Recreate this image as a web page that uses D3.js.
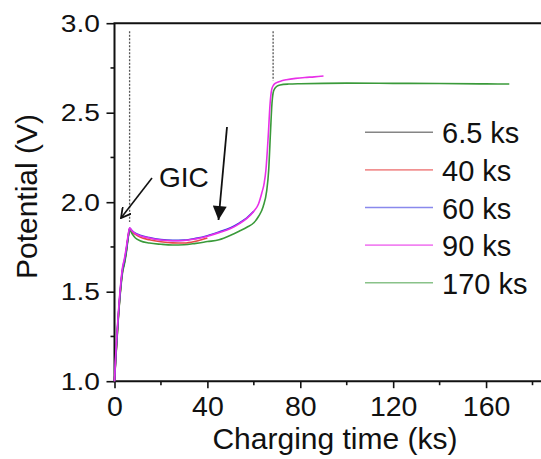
<!DOCTYPE html>
<html>
<head>
<meta charset="utf-8">
<script src="https://cdn.jsdelivr.net/npm/d3@7/dist/d3.min.js"></script>
<style>
  html, body { margin: 0; padding: 0; background: #fff; }
  svg { display: block; }
  text { font-family: "Liberation Sans", Arial, sans-serif; fill: #111; }
</style>
</head>
<body>
<svg id="chart" width="541" height="459"></svg>
<script>
// Charging curves: time (ks) and potential (V) for each charging duration
const time6_5  = [0, 0.5, 1.5, 2.5, 3.5, 4.2, 5.0, 5.8, 6.5];
const volt6_5  = [1.00, 1.12, 1.33, 1.50, 1.62, 1.66, 1.72, 1.80, 1.85];

const time40 = [0, 0.5, 1.5, 2.5, 3.5, 4.2, 5.0, 5.8, 6.5, 7.5, 9, 11, 15, 20, 25, 30, 35, 40];
const volt40 = [1.00, 1.12, 1.33, 1.50, 1.62, 1.66, 1.72, 1.80, 1.85, 1.835, 1.82, 1.805, 1.79, 1.779, 1.773, 1.772, 1.782, 1.80];

const time60 = [0, 0.5, 1.5, 2.5, 3.5, 4.2, 5.0, 5.8, 6.5, 7.5, 9, 11, 15, 20, 25, 30, 35, 40, 45, 50, 54, 57, 60];
const volt60 = [1.00, 1.13, 1.34, 1.51, 1.63, 1.67, 1.73, 1.80, 1.855, 1.842, 1.827, 1.816, 1.802, 1.791, 1.787, 1.788, 1.798, 1.813, 1.834, 1.858, 1.886, 1.912, 1.95];

const time90 = [0, 0.5, 1.5, 2.5, 3.5, 4.2, 5.0, 5.8, 6.5, 7.5, 9, 11, 15, 20, 25, 30, 35, 40, 45, 50, 54, 57, 60, 62, 63.4, 64.5, 65.2, 66.2, 67, 67.7, 68.5, 69.8, 72, 74, 78, 82, 86, 90];
const volt90 = [1.00, 1.14, 1.35, 1.52, 1.64, 1.68, 1.74, 1.81, 1.857, 1.84, 1.824, 1.813, 1.80, 1.789, 1.785, 1.786, 1.795, 1.81, 1.83, 1.853, 1.882, 1.91, 1.95, 1.99, 2.05, 2.11, 2.18, 2.37, 2.55, 2.63, 2.655, 2.668, 2.678, 2.684, 2.692, 2.697, 2.70, 2.705];

const time170 = [0, 0.5, 1.5, 2.5, 3.5, 4.2, 5.0, 5.8, 6.5, 7.5, 9, 11, 15, 20, 25, 30, 35, 40, 45, 50, 54, 57, 60, 62, 64, 65.5, 66.4, 67.2, 67.8, 68.3, 69, 70, 71.3, 75, 80, 100, 120, 140, 160, 170];
const volt170 = [1.00, 1.11, 1.32, 1.49, 1.61, 1.65, 1.71, 1.79, 1.845, 1.825, 1.80, 1.785, 1.772, 1.765, 1.761, 1.762, 1.77, 1.78, 1.79, 1.815, 1.84, 1.86, 1.885, 1.92, 1.975, 2.06, 2.18, 2.40, 2.55, 2.61, 2.635, 2.648, 2.655, 2.66, 2.662, 2.665, 2.664, 2.663, 2.661, 2.66];

const legendLabels = ["6.5 ks", "40 ks", "60 ks", "90 ks", "170 ks"];
const seriesColors = ["#333333", "#e84848", "#3a3ae0", "#e830e8", "#3a9a3a"];
const xTickValues = [0, 40, 80, 120, 160];
const yTickValues = [1.0, 1.5, 2.0, 2.5, 3.0];
const markerTimes = [6.5, 68.3];   // dotted guides at the GIC onset and the final step
const markerTops = [1.89, 2.68];

const seriesTimes = [time6_5, time40, time60, time90, time170];
const seriesVolts = [volt6_5, volt40, volt60, volt90, volt170];

const svg = d3.select("#chart");
const plotLeft = 114.5, plotRight = 541.8, plotTop = 23.2, plotBottom = 381.2;

const x = d3.scaleLinear().domain([0, 184]).range([plotLeft, plotRight]);
const y = d3.scaleLinear().domain([1.0, 3.0]).range([plotBottom, plotTop]);

// arrow heads
const defs = svg.append("defs");
defs.append("marker")
  .attr("id", "openHead").attr("viewBox", "0 0 10 10")
  .attr("refX", 9).attr("refY", 5).attr("markerWidth", 11).attr("markerHeight", 11)
  .attr("markerUnits", "userSpaceOnUse").attr("orient", "auto")
  .append("path").attr("d", "M0,0 L9,5 L0,10").attr("fill", "none")
  .attr("stroke", "#111").attr("stroke-width", 1.6);
defs.append("marker")
  .attr("id", "solidHead").attr("viewBox", "0 0 10 10")
  .attr("refX", 10).attr("refY", 5).attr("markerWidth", 17).attr("markerHeight", 14)
  .attr("markerUnits", "userSpaceOnUse").attr("orient", "auto")
  .append("path").attr("d", "M0,0 L10,5 L0,10 Z").attr("fill", "#111");

// minor ticks
const xMinor = d3.range(20, 184, 40);
const yMinor = [1.25, 1.75, 2.25, 2.75];

const gx = svg.append("g").attr("transform", `translate(0,${plotBottom})`);
gx.call(d3.axisBottom(x).tickValues(xTickValues).tickFormat(d3.format("d")).tickSize(7).tickPadding(7.5))
  .call(g => g.select(".domain").remove());
gx.selectAll(".tick line").attr("stroke", "#111").attr("stroke-width", 1.6);
gx.selectAll(".tick text").style("font-size", "28.5px").attr("fill", "#111")
  .style("font-family", "Liberation Sans, Arial, sans-serif");
gx.append("g").selectAll("line").data(xMinor).join("line")
  .attr("x1", d => x(d)).attr("x2", d => x(d)).attr("y1", 0).attr("y2", 4)
  .attr("stroke", "#111").attr("stroke-width", 1.6);

const gy = svg.append("g").attr("transform", `translate(${plotLeft},0)`);
gy.call(d3.axisLeft(y).tickValues(yTickValues).tickFormat(d3.format(".1f")).tickSize(8).tickPadding(5))
  .call(g => g.select(".domain").remove());
gy.selectAll(".tick line").attr("stroke", "#111").attr("stroke-width", 1.6);
// slightly widened tick numerals
gy.selectAll(".tick text").style("font-size", "24.5px").attr("fill", "#111")
  .style("font-family", "Liberation Sans, Arial, sans-serif")
  .attr("x", -14.5 / 1.15).attr("transform", "scale(1.15,1)");
gy.append("g").selectAll("line").data(yMinor).join("line")
  .attr("y1", d => y(d)).attr("y2", d => y(d)).attr("x1", 0).attr("x2", -4)
  .attr("stroke", "#111").attr("stroke-width", 1.6);

// frame: left, bottom and top edges
svg.append("path")
  .attr("d", `M${plotRight},${plotTop} L${plotLeft},${plotTop} L${plotLeft},${plotBottom} L${plotRight},${plotBottom}`)
  .attr("fill", "none").attr("stroke", "#111").attr("stroke-width", 2);

// dotted guide lines
svg.append("g").selectAll("line").data(markerTimes).join("line")
  .attr("x1", d => x(d)).attr("x2", d => x(d))
  .attr("y1", y(2.955)).attr("y2", (d, i) => y(markerTops[i]))
  .attr("stroke", "#555").attr("stroke-width", 1.3).attr("stroke-dasharray", "2,1.5");

// curves
const line = d3.line().x(d => x(d[0])).y(d => y(d[1])).curve(d3.curveMonotoneX);
const drawOrder = [0, 1, 4, 2, 3];
svg.append("g").selectAll("path").data(drawOrder).join("path")
  .attr("d", i => line(d3.zip(seriesTimes[i], seriesVolts[i])))
  .attr("fill", "none").attr("stroke", i => seriesColors[i])
  .attr("stroke-width", 1.6).attr("stroke-linejoin", "round");

// legend
const legend = svg.append("g");
legendLabels.forEach((lab, i) => {
  const ly = 132.3 + i * 37.6;
  legend.append("line").attr("x1", 365).attr("x2", 433).attr("y1", ly).attr("y2", ly)
    .attr("stroke", seriesColors[i]).attr("stroke-width", 1.6).attr("stroke-opacity", 0.6);
  legend.append("text").attr("x", 442).attr("y", ly + 11).style("font-size", "29px").text(lab);
});

// annotations
svg.append("text").attr("x", 159).attr("y", 187).style("font-size", "28px").text("GIC");
svg.append("line").attr("x1", 152).attr("y1", 178).attr("x2", 121).attr("y2", 218)
  .attr("stroke", "#111").attr("stroke-width", 1.6).attr("marker-end", "url(#openHead)");
svg.append("line").attr("x1", 227).attr("y1", 127).attr("x2", 218.5).attr("y2", 220)
  .attr("stroke", "#111").attr("stroke-width", 1.8).attr("marker-end", "url(#solidHead)");

// axis titles
svg.append("text").attr("x", 335).attr("y", 449).attr("text-anchor", "middle")
  .style("font-size", "30px").text("Charging time (ks)");
svg.append("text").attr("transform", "translate(37,196.5) rotate(-90)").attr("text-anchor", "middle")
  .style("font-size", "30px").text("Potential (V)");
</script>
</body>
</html>
